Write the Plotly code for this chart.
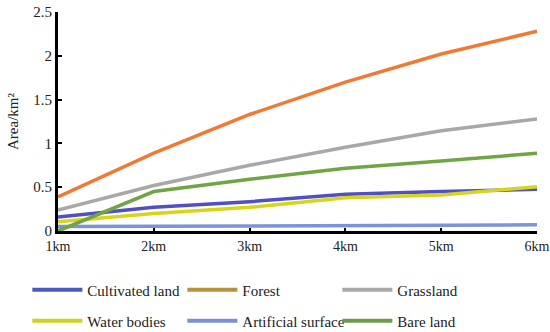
import plotly.graph_objects as go

categories = ["1km", "2km", "3km", "4km", "5km", "6km"]
series_names = ["Cultivated land", "Forest", "Grassland", "Water bodies", "Artificial surface", "Bare land"]
cultivated = [0.16, 0.27, 0.335, 0.42, 0.45, 0.476]
forest = [0.39, 0.89, 1.33, 1.70, 2.02, 2.28]
grassland = [0.24, 0.52, 0.75, 0.955, 1.145, 1.28]
water = [0.106, 0.20, 0.27, 0.38, 0.41, 0.506]
artificial = [0.05, 0.055, 0.06, 0.065, 0.068, 0.07]
bare = [0.0, 0.45, 0.59, 0.716, 0.80, 0.887]
y_ticks = [0, 0.5, 1, 1.5, 2, 2.5]
y_tick_labels = ["0", "0.5", "1", "1.5", "2", "2.5"]

line_colors = ["#5050C4", "#F07A35", "#A8A8A8", "#D8D41C", "#7A93DA", "#6FA544"]
legend_colors = ["#4A5BC0", "#B8913A", "#A8A8A8", "#D0D020", "#7890D8", "#6E9A4A"]
values = [cultivated, forest, grassland, water, artificial, bare]
legend_rows = ["legend", "legend", "legend", "legend2", "legend2", "legend2"]

font_family = "Liberation Serif, Times New Roman, serif"
fig = go.Figure()
for name, vals, col in zip(series_names, values, line_colors):
    fig.add_trace(go.Scatter(x=categories, y=vals, mode="lines", name=name,
                             line=dict(color=col, width=3.5), showlegend=False,
                             cliponaxis=False))
for name, col, lg in zip(series_names, legend_colors, legend_rows):
    fig.add_trace(go.Scatter(x=categories, y=[None] * len(categories), mode="lines", name=name,
                             line=dict(color=col, width=4), showlegend=True, legend=lg))

legend_common = dict(orientation="h", xanchor="left", yanchor="middle",
                     entrywidth=90, entrywidthmode="pixels", itemwidth=50,
                     font=dict(family=font_family, size=15, color="#222"),
                     traceorder="normal", bgcolor="rgba(0,0,0,0)")

fig.update_layout(
    width=550, height=332,
    margin=dict(l=58, r=13, t=12, b=101, autoexpand=False),
    paper_bgcolor="white", plot_bgcolor="white",
    font=dict(family=font_family, size=14, color="#222"),
    showlegend=True,
    legend=dict(x=-0.064, y=-0.269, **legend_common),
    legend2=dict(x=-0.064, y=-0.411, **legend_common),
    xaxis=dict(type="category", range=[0, 5], showgrid=False, showline=True,
               linecolor="black", linewidth=2.5, ticks="inside", ticklen=3, tickwidth=2,
               tickcolor="black", ticklabeloverflow="allow",
               tickfont=dict(family=font_family, size=14, color="#222")),
    yaxis=dict(range=[0, 2.5], tickvals=y_ticks, ticktext=y_tick_labels, showgrid=False,
               showline=True, linecolor="black", linewidth=3, ticks="inside", ticklen=4,
               tickwidth=2, tickcolor="black", zeroline=False, ticklabeloverflow="allow",
               tickfont=dict(family=font_family, size=15, color="#222"),
               title=dict(text="Area/km²", standoff=12,
                          font=dict(family=font_family, size=15, color="#222"))),
)
# Remove the browser's default 8px body margin so the figure fills the window exactly.
fig.write_html("out.html", config={"displayModeBar": False},
               post_script="document.body.style.margin='0px';document.body.style.overflow='hidden';")
